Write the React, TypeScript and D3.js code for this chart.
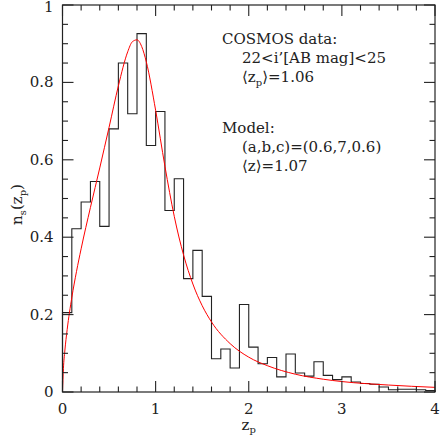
import React, { useEffect, useRef } from "react";
import * as d3 from "d3";

// histogram of photometric redshifts, bins of 0.1 from z=0
const binWidth = 0.1;
const histValues = [
  0.205, 0.422, 0.491, 0.544, 0.428, 0.68, 0.85, 0.719, 0.926, 0.637,
  0.725, 0.469, 0.551, 0.293, 0.366, 0.247, 0.086, 0.111, 0.062, 0.226,
  0.116, 0.073, 0.089, 0.039, 0.098, 0.049, 0.041, 0.078, 0.043, 0.032,
  0.039, 0.026, 0.022, 0.02, 0.013, 0.006, 0.007, 0.007, 0.006, 0.004,
];

// model curve
const modelZ = [
  0, 0.01, 0.025, 0.05, 0.1, 0.15, 0.2, 0.3, 0.4, 0.5, 0.6, 0.7, 0.75, 0.8,
  0.85, 0.9, 1.0, 1.1, 1.2, 1.3, 1.4, 1.5, 1.6, 1.8, 2.0, 2.2, 2.5, 2.8, 3.0,
  3.5, 4.0,
];
const modelN = [
  0, 0.061, 0.106, 0.161, 0.244, 0.311, 0.37, 0.477, 0.579, 0.684, 0.791,
  0.879, 0.905, 0.91, 0.893, 0.853, 0.728, 0.583, 0.454, 0.354, 0.279, 0.223,
  0.181, 0.125, 0.09, 0.068, 0.046, 0.033, 0.027, 0.018, 0.012,
];

const xTicks = [0, 1, 2, 3, 4];
const yTicks = [0, 0.2, 0.4, 0.6, 0.8, 1];

const FONT = "'DejaVu Serif', 'Liberation Serif', serif";

export default function App() {
  const ref = useRef<SVGSVGElement>(null);
  const width = 440;
  const height = 436;

  useEffect(() => {
    const margin = { top: 5, right: 5, bottom: 44, left: 62.5 };
    const svg = d3.select(ref.current);
    svg.selectAll("*").remove();

    const x = d3.scaleLinear().domain([0, 4]).range([margin.left, width - margin.right]);
    const y = d3.scaleLinear().domain([0, 1]).range([height - margin.bottom, margin.top]);
    const [x0, x1] = x.range();
    const [y0, y1] = y.range();

    // histogram step line
    const steps: [number, number][] = [[0, 0]];
    histValues.forEach((v, i) => {
      steps.push([i * binWidth, v]);
      steps.push([(i + 1) * binWidth, v]);
    });
    steps.push([histValues.length * binWidth, 0]);
    svg
      .append("path")
      .attr("d", d3.line<[number, number]>().x((d) => x(d[0])).y((d) => y(d[1]))(steps))
      .attr("fill", "none")
      .attr("stroke", "#222")
      .attr("stroke-width", 1.1);

    // model
    const pts = modelZ.map((z, i) => [z, modelN[i]] as [number, number]);
    svg
      .append("path")
      .attr(
        "d",
        d3
          .line<[number, number]>()
          .x((d) => x(d[0]))
          .y((d) => y(d[1]))
          .curve(d3.curveMonotoneX)(pts)
      )
      .attr("fill", "none")
      .attr("stroke", "#ff0000")
      .attr("stroke-width", 1);

    // frame
    svg
      .append("rect")
      .attr("x", x0)
      .attr("y", y1)
      .attr("width", x1 - x0)
      .attr("height", y0 - y1)
      .attr("fill", "none")
      .attr("stroke", "#222")
      .attr("stroke-width", 1.2);

    // ticks on all four sides, pointing inward
    const ticks = svg.append("g").attr("stroke", "#222").attr("stroke-width", 1.1);
    d3.range(0, 4.0001, 0.2).forEach((t) => {
      const major = Math.abs(t - Math.round(t)) < 1e-6;
      const len = major ? 11 : 5.5;
      ticks.append("line").attr("x1", x(t)).attr("x2", x(t)).attr("y1", y0).attr("y2", y0 - len);
      ticks.append("line").attr("x1", x(t)).attr("x2", x(t)).attr("y1", y1).attr("y2", y1 + len);
    });
    d3.range(0, 1.0001, 0.05).forEach((t) => {
      const major = Math.abs(t * 5 - Math.round(t * 5)) < 1e-6;
      const len = major ? 11 : 5.5;
      ticks.append("line").attr("y1", y(t)).attr("y2", y(t)).attr("x1", x0).attr("x2", x0 + len);
      ticks.append("line").attr("y1", y(t)).attr("y2", y(t)).attr("x1", x1).attr("x2", x1 - len);
    });

    // tick labels
    svg
      .append("g")
      .selectAll("text")
      .data(xTicks)
      .join("text")
      .attr("x", (d) => x(d))
      .attr("y", y0 + 22)
      .attr("text-anchor", "middle")
      .attr("font-family", FONT)
      .attr("font-size", 15)
      .attr("fill", "#222")
      .text((d) => String(d));

    svg
      .append("g")
      .selectAll("text")
      .data(yTicks)
      .join("text")
      .attr("x", x0 - 9)
      .attr("y", (d) => Math.max(y(d) + 5, 12))
      .attr("text-anchor", "end")
      .attr("font-family", FONT)
      .attr("font-size", 15)
      .attr("fill", "#222")
      .text((d) => String(d));

    // axis titles
    const xt = svg
      .append("text")
      .attr("x", (x0 + x1) / 2)
      .attr("y", height - 6)
      .attr("text-anchor", "middle")
      .attr("font-family", FONT)
      .attr("font-size", 15)
      .attr("fill", "#222");
    xt.append("tspan").text("z");
    xt.append("tspan").attr("font-size", 10).attr("dy", 3).text("p");

    const yt = svg
      .append("text")
      .attr("transform", `translate(22, ${(y0 + y1) / 2 + 6}) rotate(-90)`)
      .attr("text-anchor", "middle")
      .attr("font-family", FONT)
      .attr("font-size", 15)
      .attr("fill", "#222");
    yt.append("tspan").text("n");
    yt.append("tspan").attr("font-size", 10).attr("dy", 4).text("s");
    yt.append("tspan").attr("dy", -4).text("(z");
    yt.append("tspan").attr("font-size", 10).attr("dy", 4).text("p");
    yt.append("tspan").attr("dy", -4).text(")");

    // annotation
    const note = svg
      .append("g")
      .attr("font-family", FONT)
      .attr("font-size", 15)
      .attr("fill", "#222");
    const tx = 222;
    const ti = 242;
    note.append("text").attr("x", tx).attr("y", 44).text("COSMOS data:");
    note.append("text").attr("x", ti).attr("y", 63).text("22<i’[AB mag]<25");
    const l3 = note.append("text").attr("x", ti).attr("y", 82);
    l3.append("tspan").text("⟨z");
    l3.append("tspan").attr("font-size", 10).attr("dy", 4).text("p");
    l3.append("tspan").attr("dy", -4).text("⟩=1.06");
    note.append("text").attr("x", tx).attr("y", 133).text("Model:");
    note.append("text").attr("x", ti).attr("y", 152).text("(a,b,c)=(0.6,7,0.6)");
    note.append("text").attr("x", ti).attr("y", 171).text("⟨z⟩=1.07");
  }, []);

  return (
    <svg
      ref={ref}
      width={width}
      height={height}
      style={{ position: "absolute", left: 0, top: 0, background: "#fff" }}
    />
  );
}
